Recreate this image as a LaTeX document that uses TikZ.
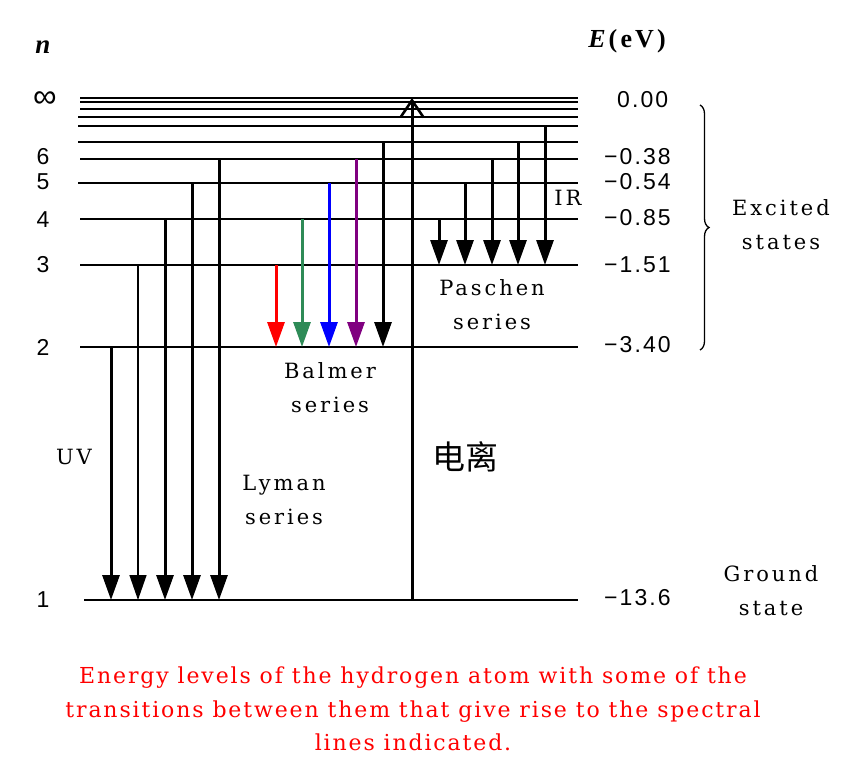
\documentclass[tikz,border=0pt]{standalone}
\usepackage{fontspec}
\setmainfont{DejaVu Serif}
\newfontfamily\lblfont[LetterSpace=14]{DejaVu Serif}
\newfontfamily\capfont[LetterSpace=8.5]{DejaVu Serif}
\newfontfamily\numfont[LetterSpace=9]{Liberation Sans}
\newfontfamily\symfont{Liberation Sans}
\newfontfamily\efont[LetterSpace=12]{Liberation Serif}
\newfontfamily\tnr{Liberation Serif}
\newfontfamily\cjk{Noto Sans CJK SC}
\usetikzlibrary{arrows.meta,decorations.pathreplacing}
\definecolor{bgreen}{RGB}{46,139,87}
\definecolor{bpurple}{RGB}{128,0,128}
\tikzset{
  level/.style={line width=1.5pt},
  down/.style={line width=3pt,-{Triangle[width=17pt,length=25pt]}},
  thindown/.style={line width=1.4pt,-{Triangle[width=17pt,length=25pt]}},
  ionarr/.style={line width=3pt,-{Straight Barb[length=17pt,width=23pt,line width=2.6pt]}},
  txt/.style={font=\lblfont\fontsize{21}{34}\selectfont, align=center, inner sep=0pt},
  num/.style={font=\numfont\fontsize{23}{26}\selectfont, inner sep=0pt},
  captxt/.style={font=\capfont\fontsize{22}{33.5}\selectfont, align=center, inner sep=0pt, text=red}
}
\begin{document}
\begin{tikzpicture}[x=1pt,y=-1pt]
\useasboundingbox[fill=white] (0,0) rectangle (856,780);
% energy levels
\foreach \y/\l/\xl in {98/i1/80, 102/i2/80, 109/i3/80, 117/i4/78, 126/i5/78, 142/n7/78, 159/n6/80, 183/n5/78, 219/n4/80, 265/n3/80, 347/n2/80, 600/n1/84}
 { \coordinate (\l L) at (\xl,\y); \coordinate (\l R) at (578,\y); \draw[level] (\l L) -- (\l R); }
% Lyman
\coordinate (ly2) at (111,347);
\coordinate (ly3) at (138,265);
\coordinate (ly4) at (165,219);
\coordinate (ly5) at (192,183);
\coordinate (ly6) at (219,159);
\draw[down] (ly2) -- (ly2 |- n1L);
\draw[thindown] (ly3) -- (ly3 |- n1L);
\draw[down] (ly4) -- (ly4 |- n1L);
\draw[down] (ly5) -- (ly5 |- n1L);
\draw[down] (ly6) -- (ly6 |- n1L);
% Balmer
\coordinate (bl3) at (276,265);
\coordinate (bl4) at (302,219);
\coordinate (bl5) at (329,183);
\coordinate (bl6) at (356,159);
\coordinate (bl7) at (383,142);
\draw[down,red] (bl3) -- (bl3 |- n2L);
\draw[down,bgreen] (bl4) -- (bl4 |- n2L);
\draw[down,blue] (bl5) -- (bl5 |- n2L);
\draw[down,bpurple] (bl6) -- (bl6 |- n2L);
\draw[down] (bl7) -- (bl7 |- n2L);
% Paschen
\coordinate (pa4) at (439,219);
\coordinate (pa5) at (465,183);
\coordinate (pa6) at (492,159);
\coordinate (pa7) at (518,142);
\coordinate (pa8) at (545,126);
\draw[down] (pa4) -- (pa4 |- n3L);
\draw[down] (pa5) -- (pa5 |- n3L);
\draw[down] (pa6) -- (pa6 |- n3L);
\draw[down] (pa7) -- (pa7 |- n3L);
\draw[down] (pa8) -- (pa8 |- n3L);
% ionisation
\coordinate (ion) at (412,600);
\draw[ionarr] (ion) -- (ion |- i1L);
% left labels
\node[font=\tnr\bfseries\itshape\fontsize{27}{30}\selectfont, inner sep=0pt] (nlab) at (43,47) {n};
\node[font=\symfont\fontsize{33}{36}\selectfont, inner sep=0pt] (linf) at (45,100) {∞};
\node[num] (l6) at (43,157) {6};
\node[num] (l5) at (43,182) {5};
\node[num] (l4) at (43,220) {4};
\node[num] (l3) at (43,265) {3};
\node[num] (l2) at (43,347) {2};
\node[num] (l1) at (43,600) {1};
% right labels
\node[font=\efont\bfseries\fontsize{26}{30}\selectfont, inner sep=0pt] (elab) at (627,41) {\textit{E}(eV)};
\node[num,anchor=west] (e0) at (617,100) {0.00};
\node[num,anchor=west] (e6) at (604,157) {−0.38};
\node[num,anchor=west] (e5) at (604,182) {−0.54};
\node[num,anchor=west] (e4) at (604,218) {−0.85};
\node[num,anchor=west] (e3) at (604,265) {−1.51};
\node[num,anchor=west] (e2) at (604,345) {−3.40};
\node[num,anchor=west] (e1) at (604,598) {−13.6};
% brace
\draw[line width=1.3pt, decorate, decoration={brace, amplitude=9pt}] (700,105) -- (700,350);
\node[txt] (exc) at (781,225) {Excited\\states};
\node[txt] (gnd) at (771,591) {Ground\\state};
% series labels
\node[txt] (ir) at (568,198) {IR};
\node[txt] (pas) at (492,305) {Paschen\\series};
\node[txt] (bal) at (330,388) {Balmer\\series};
\node[txt] (uv) at (74,457) {UV};
\node[txt] (lym) at (284,500) {Lyman\\series};
\node[font=\cjk\fontsize{33}{36}\selectfont, inner sep=0pt] (ionlab) at (465,457) {电离};
% caption
\node[captxt] (caption) at (413,709) {Energy levels of the hydrogen atom with some of the\\transitions between them that give rise to the spectral\\lines indicated.};
\end{tikzpicture}
\end{document}
